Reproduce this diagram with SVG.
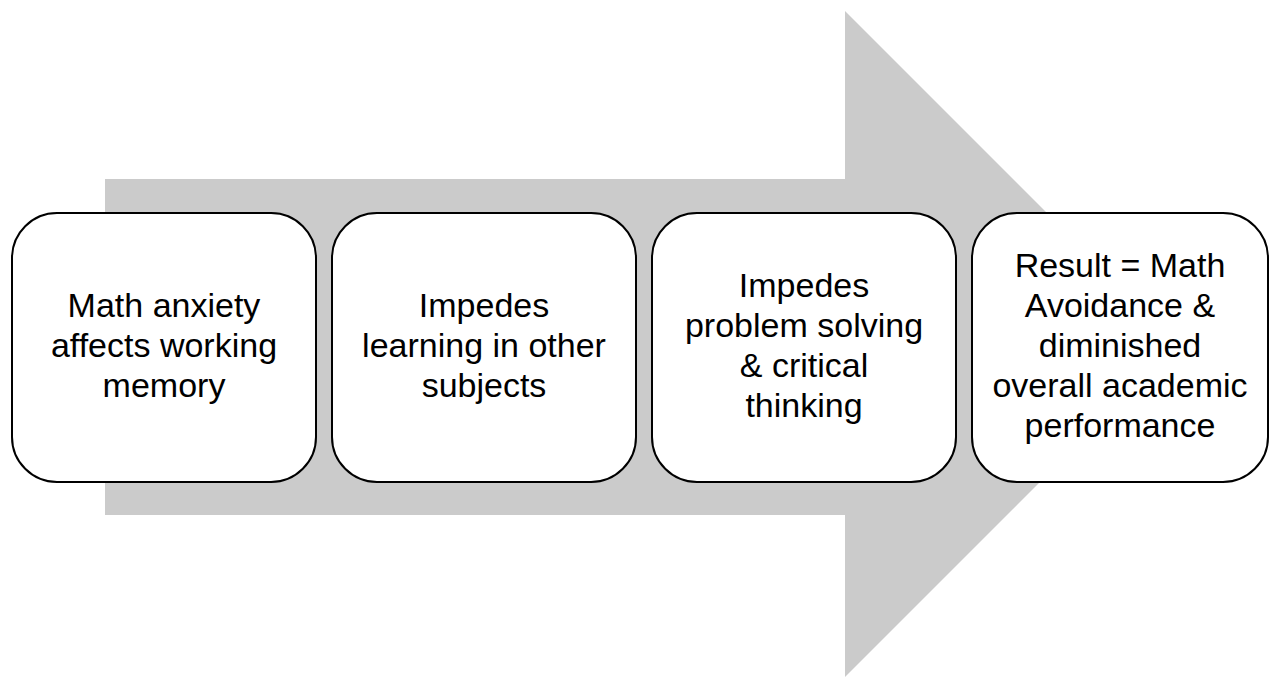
<svg xmlns="http://www.w3.org/2000/svg" width="1269" height="678" viewBox="0 0 1269 678">
<style>
.box{fill:#fff;stroke:#000;stroke-width:2}
.t{font-family:"Liberation Sans",Arial,sans-serif;font-size:34px;fill:#000;text-anchor:middle}
</style>
<rect width="1269" height="678" fill="#fff"/>
<g id="arrow">
<polygon points="105,179 845,179 845,11 1178,344 845,677 845,515 105,515" fill="#cbcbcb"/>
</g>
<g id="node1">
<rect class="box" x="12" y="213" width="304" height="269" rx="45" ry="45"/>
<text class="t" x="164" y="317">Math anxiety</text>
<text class="t" x="164" y="357">affects working</text>
<text class="t" x="164" y="397">memory</text>
</g>
<g id="node2">
<rect class="box" x="332" y="213" width="304" height="269" rx="45" ry="45"/>
<text class="t" x="484" y="317">Impedes</text>
<text class="t" x="484" y="357">learning in other</text>
<text class="t" x="484" y="397">subjects</text>
</g>
<g id="node3">
<rect class="box" x="652" y="213" width="304" height="269" rx="45" ry="45"/>
<text class="t" x="804" y="297">Impedes</text>
<text class="t" x="804" y="337">problem solving</text>
<text class="t" x="804" y="377">&amp; critical</text>
<text class="t" x="804" y="417">thinking</text>
</g>
<g id="node4">
<rect class="box" x="972" y="213" width="296" height="269" rx="45" ry="45"/>
<text class="t" x="1120" y="277">Result = Math</text>
<text class="t" x="1120" y="317">Avoidance &amp;</text>
<text class="t" x="1120" y="357">diminished</text>
<text class="t" x="1120" y="397">overall academic</text>
<text class="t" x="1120" y="437">performance</text>
</g>
</svg>
